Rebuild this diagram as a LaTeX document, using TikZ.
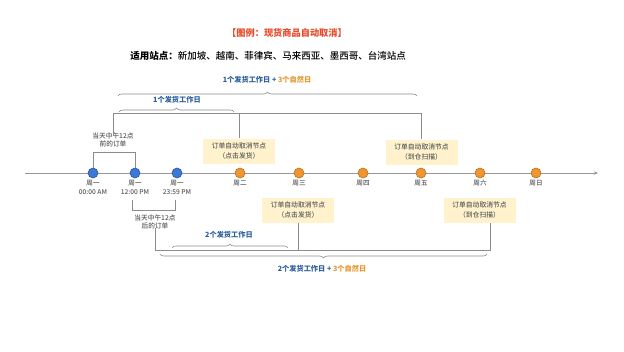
\documentclass[tikz,border=0pt]{standalone}
\usepackage{fontspec}
\setmainfont{Noto Sans CJK SC}
\newfontface\medfont{Noto Sans CJK SC Medium}
\usetikzlibrary{decorations.pathreplacing,arrows.meta}
\definecolor{tblue}{HTML}{2D5F9E}
\definecolor{torange}{HTML}{E8962E}
\definecolor{tred}{HTML}{E84A2C}
\definecolor{lgray}{HTML}{8C8C8C}
\definecolor{boxfill}{HTML}{FFF2CC}
\definecolor{dblue}{HTML}{3C78D8}
\definecolor{dorange}{HTML}{F0962E}
\definecolor{txt}{HTML}{595959}
\begin{document}
\begin{tikzpicture}[x=1pt,y=-1pt,
 dotb/.style={circle,draw=dblue!70!black,fill=dblue,minimum size=10pt,inner sep=0pt,line width=0.6pt},
 doto/.style={circle,draw=dorange!75!black,fill=dorange,minimum size=10pt,inner sep=0pt,line width=0.6pt},
 daylbl/.style={font=\medfont\fontsize{6.6}{9}\selectfont,text=txt,align=center,anchor=north,inner sep=0pt},
 notelbl/.style={font=\medfont\fontsize{6.7}{8.3}\selectfont,text=txt,align=center,inner sep=0pt},
 cbox/.style={fill=boxfill,minimum width=72pt,minimum height=25pt,align=center,font=\medfont\fontsize{6.8}{9.5}\selectfont,text=txt,inner sep=0pt},
 conn/.style={draw=lgray,line width=0.7pt},
 bracelbl/.style={font=\bfseries\fontsize{7.2}{9}\selectfont,text=tblue,inner sep=0pt},
 brc/.style={draw=lgray,line width=0.6pt,decorate,decoration={brace,amplitude=4pt}},
]
\useasboundingbox[fill=white] (0,0) rectangle (624,351);

% title
\node[font=\bfseries\fontsize{9.2}{11}\selectfont,text=tred,inner sep=0pt] (title) at (287,33) {【图例：现货商品自动取消】};
\node[font=\fontsize{9.5}{11}\selectfont,text=black,inner sep=0pt] (sites) at (268,56) {{\bfseries 适用站点：}{\medfont 新加坡、越南、菲律宾、马来西亚、墨西哥、台湾站点}};

% timeline
\coordinate (t0) at (25,173);
\coordinate (t1) at (598,173);
\draw[draw=lgray!90,line width=0.8pt,-{Stealth[length=4pt,width=3.5pt]}] (t0) -- (t1);

\node[dotb] (d1) at (93,173) {};
\node[dotb] (d2) at (135,173) {};
\node[dotb] (d3) at (177,173) {};
\node[doto] (d4) at (240,173) {};
\node[doto] (d5) at (299,173) {};
\node[doto] (d6) at (363,173) {};
\node[doto] (d7) at (421,173) {};
\node[doto] (d8) at (480,173) {};
\node[doto] (d9) at (536,173) {};

\node[daylbl] (l1) at (93,180) {周一\\00:00 AM};
\node[daylbl] (l2) at (135,180) {周一\\12:00 PM};
\node[daylbl] (l3) at (177,180) {周一\\23:59 PM};
\node[daylbl] (l4) at (240,180) {周二};
\node[daylbl] (l5) at (299,180) {周三};
\node[daylbl] (l6) at (363,180) {周四};
\node[daylbl] (l7) at (421,180) {周五};
\node[daylbl] (l8) at (480,180) {周六};
\node[daylbl] (l9) at (536,180) {周日};

% boxes
\node[cbox] (b1) at (239,151) {订单自动取消节点\\（点击发货）};
\node[cbox] (b2) at (421.5,152) {订单自动取消节点\\（到仓扫描）};
\node[cbox] (b3) at (298,210) {订单自动取消节点\\（点击发货）};
\node[cbox] (b4) at (479.5,210) {订单自动取消节点\\（到仓扫描）};

% notes
\node[notelbl] (pre) at (113,140) {当天中午12点\\前的订单};
\node[notelbl] (post) at (155,222) {当天中午12点\\后的订单};

% upper connectors
\coordinate (topy) at (0,113);
\coordinate (preb) at (0,152);
\draw[conn] (d1.north) |- (d2.north |- preb) -- (d2.north);
\draw[conn] ([yshift=-2pt]pre.north) |- (b2.north |- topy) -- (b2.north);
\draw[conn] (b1.north |- topy) -- (b1.north);

% lower connectors
\coordinate (pa) at (132,200);
\coordinate (pb) at (175,200);
\coordinate (posty) at (0,210);
\coordinate (boty) at (0,250);
\coordinate (b4c) at ([xshift=11pt]b4.south);
\draw[conn] (pa) |- (pb |- posty) -- (pb);
\draw[conn] ([yshift=1.5pt]post.south) |- (b4c |- boty) -- (b4c);
\draw[conn] (b3.south) -- (b3.south |- boty);

% braces
\coordinate (br1a) at (119,112);
\coordinate (br1b) at (234,112);
\coordinate (br2a) at (118,96);
\coordinate (br2b) at (417,96);
\coordinate (br3a) at (172,248);
\coordinate (br3b) at (288,248);
\coordinate (br4a) at (487,254);
\coordinate (br4b) at (160,254);
\draw[brc] (br1a) -- (br1b);
\draw[brc] (br2a) -- (br2b);
\draw[brc] (br3a) -- (br3b);
\draw[brc] (br4a) -- (br4b);

\node[bracelbl] (bl1) at (177,100) {1个发货工作日};
\node[bracelbl] (bl2) at (267,80) {1个发货工作日 + \textcolor{torange}{3个自然日}};
\node[bracelbl] (bl3) at (229,235) {2个发货工作日};
\node[bracelbl] (bl4) at (322,269) {2个发货工作日 + \textcolor{torange}{3个自然日}};
\end{tikzpicture}
\end{document}
